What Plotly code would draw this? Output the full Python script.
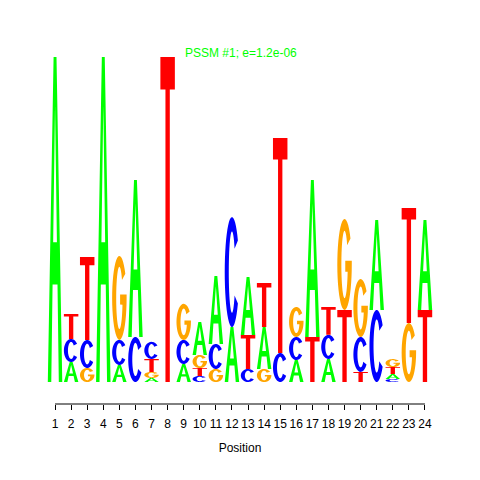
import math
import plotly.graph_objects as go

# ---- data (information content in bits) ----
positions = list(range(1, 25))
A_bits = [2.0, 0.123, 0.0, 2.0, 0.105, 0.966, 0.025, 0.0, 0.111, 0.203, 0.418, 0.338,
          0.357, 0.258, 0.0, 0.135, 0.966, 0.142, 0.0, 0.0, 0.554, 0.031, 0.0, 0.554]
C_bits = [0.0, 0.142, 0.172, 0.0, 0.154, 0.277, 0.105, 0.0, 0.148, 0.037, 0.154, 0.677,
          0.080, 0.0, 0.178, 0.142, 0.0, 0.148, 0.0, 0.215, 0.443, 0.018, 0.0, 0.0]
G_bits = [0.0, 0.0, 0.086, 0.0, 0.517, 0.0, 0.037, 0.0, 0.222, 0.080, 0.080, 0.0,
          0.0, 0.080, 0.0, 0.185, 0.0, 0.0, 0.560, 0.357, 0.0, 0.049, 0.363, 0.0]
T_bits = [0.0, 0.154, 0.511, 0.0, 0.0, 0.0, 0.080, 2.0, 0.0, 0.049, 0.0, 0.0,
          0.209, 0.271, 1.323, 0.0, 0.277, 0.172, 0.443, 0.062, 0.0, 0.043, 0.708, 0.443]
tick_labels = [str(p) for p in positions]
title_text = "PSSM #1; e=1.2e-06"

colors = {"A": "#00FF00", "C": "#0000FF", "G": "#FFA500", "T": "#FF0000"}

# ---- glyph outlines in a unit box ----
def ellipse_pts(rx, ry, a0, a1, n=40):
    pts = []
    for i in range(n + 1):
        t = math.radians(a0 + (a1 - a0) * i / n)
        pts.append((0.5 + rx * math.cos(t), 0.5 + ry * math.sin(t)))
    return pts

def glyph(letter):
    if letter == "A":
        outer = [(0, 0), (0.4, 1), (0.6, 1), (1, 0), (0.76, 0), (0.67, 0.3),
                 (0.33, 0.3), (0.24, 0)]
        hole = [(0.37, 0.43), (0.5, 0.85), (0.63, 0.43)]
        return [outer, hole]
    if letter == "C":
        pts = ellipse_pts(0.5, 0.5, 35, 325) + ellipse_pts(0.22, 0.37, 325, 35)
        return [pts]
    if letter == "G":
        pts = ellipse_pts(0.5, 0.5, 35, 360)
        pts += [(1.0, 0.54), (0.55, 0.54), (0.55, 0.42)]
        pts += ellipse_pts(0.22, 0.37, 347.5, 35)
        return [pts]
    # T
    return [[(0.35, 0), (0.65, 0), (0.65, 0.9), (1, 0.9), (1, 1), (0, 1),
             (0, 0.9), (0.35, 0.9)]]

def path_for(letter, xc, y0, h, w=0.9):
    parts = []
    for poly in glyph(letter):
        seg = []
        for i, (u, v) in enumerate(poly):
            X = xc - w / 2 + u * w
            Y = y0 + v * h
            seg.append(("M" if i == 0 else "L") + f"{X:.4f},{Y:.5f}")
        parts.append(" ".join(seg) + " Z")
    return " ".join(parts)

shapes = []
for i, p in enumerate(positions):
    col = [("A", A_bits[i]), ("C", C_bits[i]), ("G", G_bits[i]), ("T", T_bits[i])]
    col = sorted([c for c in col if c[1] > 0], key=lambda c: c[1])
    y0 = 0.0
    for letter, h in col:
        shapes.append(dict(type="path", xref="x", yref="y",
                           path=path_for(letter, p, y0, h),
                           fillcolor=colors[letter], line=dict(width=0),
                           fillrule="evenodd", layer="above"))
        y0 += h

# axis line from first to last tick (R style)
shapes.append(dict(type="line", xref="x", yref="paper", x0=positions[0], x1=positions[-1],
                   y0=0, y1=0, line=dict(color="black", width=1)))

fig = go.Figure()
fig.add_trace(go.Scatter(x=positions, y=[0] * len(positions), mode="markers",
                         marker=dict(opacity=0), hoverinfo="skip", showlegend=False))

fig.update_layout(
    width=480, height=480,
    margin=dict(l=39, r=55, t=42, b=84),
    paper_bgcolor="white", plot_bgcolor="white",
    shapes=shapes,
    showlegend=False,
    font=dict(family="Liberation Sans, Arial, sans-serif", size=12, color="black"),
    xaxis=dict(range=[0.5, 24.5], tickmode="array", tickvals=positions, ticktext=tick_labels,
               ticks="outside", ticklen=5, tickwidth=1, tickcolor="black",
               ticklabelstandoff=4,
               showgrid=False, zeroline=False, showline=False,
               tickfont=dict(size=12, color="black"),
               title=dict(text="Position", font=dict(size=12, color="black"), standoff=13),
               automargin=False, fixedrange=True),
    yaxis=dict(range=[-0.1354, 2.043], visible=False, showgrid=False, zeroline=False,
               fixedrange=True),
    annotations=[dict(text=title_text, xref="paper", yref="paper", x=0.5026, y=0.9915,
                      xanchor="center", yanchor="middle", showarrow=False,
                      font=dict(size=12, color="#00FF00"))],
)

fig.write_html("out.html")
